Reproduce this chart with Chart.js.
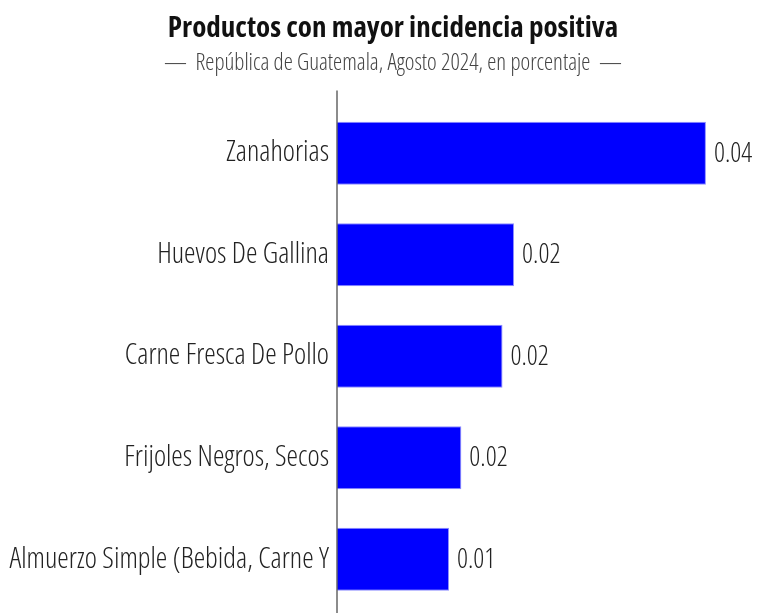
<!DOCTYPE html>
<html>
<head>
<meta charset="utf-8">
<script src="https://cdn.jsdelivr.net/npm/chart.js@4.4.1/dist/chart.umd.min.js"></script>
<style>
  html, body { margin: 0; padding: 0; background: #fff; }
  #wrap { width: 757px; height: 613px; }
</style>
</head>
<body>
<div id="wrap"><canvas id="myChart" width="757" height="613"></canvas></div>
<script>
// data
var productos = ['Zanahorias', 'Huevos De Gallina', 'Carne Fresca De Pollo', 'Frijoles Negros, Secos', 'Almuerzo Simple (Bebida, Carne Y'];
var incidencia = [0.0448, 0.0215, 0.0201, 0.0151, 0.0136];

var tituloTxt = 'Productos con mayor incidencia positiva';
var subtituloTxt = '\u2014  República de Guatemala, Agosto 2024, en porcentaje  \u2014';

var fam = "'Open Sans', sans-serif";

// value labels at bar ends + long axis line
var extras = {
  id: 'extras',
  afterDatasetsDraw: function(chart) {
    var ctx = chart.ctx;
    var meta = chart.getDatasetMeta(0);
    ctx.save();
    ctx.font = 'condensed 300 27px ' + fam;
    ctx.fillStyle = '#222';
    ctx.textAlign = 'left';
    ctx.textBaseline = 'middle';
    meta.data.forEach(function(bar, i) {
      ctx.fillText(incidencia[i].toFixed(2), bar.x + 8, bar.y + 1);
    });
    var x = chart.chartArea.left;
    ctx.strokeStyle = '#666';
    ctx.lineWidth = 1.5;
    ctx.beginPath();
    ctx.moveTo(x, chart.chartArea.top - 12);
    ctx.lineTo(x, chart.height);
    ctx.stroke();
    ctx.restore();
  }
};

var ctx = document.getElementById('myChart').getContext('2d');
var myChart = new Chart(ctx, {
  type: 'bar',
  data: {
    labels: productos,
    datasets: [{
      data: incidencia,
      backgroundColor: '#0000ff',
      borderColor: '#8f8fff',
      borderWidth: 1,
      categoryPercentage: 1,
      barPercentage: 0.62
    }]
  },
  options: {
    indexAxis: 'y',
    responsive: false,
    animation: false,
    layout: { padding: { left: 0, right: -29, top: 0, bottom: 3 } },
    plugins: {
      legend: { display: false },
      tooltip: { enabled: false },
      title: {
        display: true,
        text: tituloTxt,
        color: '#111',
        font: { family: fam, size: 29, weight: 'condensed bold' },
        padding: { top: 11, bottom: 2 }
      },
      subtitle: {
        display: true,
        text: subtituloTxt,
        color: '#444',
        font: { family: fam, size: 23, weight: 'condensed 300' },
        padding: { top: 2, bottom: 25 }
      }
    },
    scales: {
      x: {
        min: 0,
        max: 0.051,
        display: false
      },
      y: {
        afterFit: function(scale) {
          scale.width = 337;
          scale.paddingTop = 0;
          scale.paddingBottom = 0;
        },
        border: { display: false },
        grid: { display: false, drawTicks: false },
        ticks: {
          color: '#222',
          padding: 8,
          font: { family: fam, size: 29, weight: 'condensed 300' }
        }
      }
    }
  },
  plugins: [extras]
});
</script>
</body>
</html>
